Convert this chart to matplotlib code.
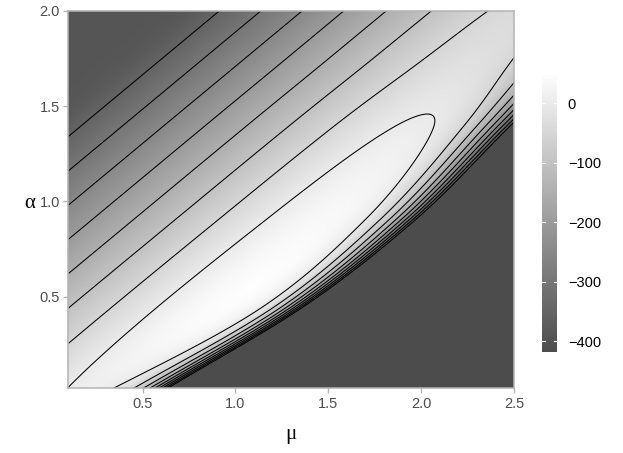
import numpy as np
import matplotlib
matplotlib.use("Agg")
import matplotlib.pyplot as plt
from matplotlib.colors import ListedColormap, Normalize

# ranges of the two parameters
mu_lim = (0.1, 2.5)
alpha_lim = (0.02, 2.0)

# surface: a plane on the upper-left side,
# a ridge along the diagonal and a steep drop on the lower-right side
plane_level = 1.0
plane_slope_mu = 226.0
plane_slope_alpha = 279.0
alpha_nodes = [0.02, 0.45, 0.9, 1.4, 1.7, 2.0]
ridge_peak = [10.5, 45.0, 36.0, 5.0, -22.0, -38.0]
cliff_width = [0.139, 0.165, 0.185, 0.19, 0.205, 0.20]
cliff_bend = [0.06, 0.12, 0.09, 0.05, 0.02, 0.0]
floor_level = -392.0
floor_soft = 12.0
clip_level = -418.5
fill_top = 51.5

contour_levels = [-400, -350, -300, -250, -200, -150, -100, -50, 0]
x_ticks = [0.5, 1.0, 1.5, 2.0, 2.5]
y_ticks = [0.5, 1.0, 1.5, 2.0]
cbar_ticks = [0, -100, -200, -300, -400]

plt.rcParams["font.family"] = ["Liberation Sans", "DejaVu Sans"]


def grey_lab(lightness):
    # ggplot interpolates colours in Lab; for greys only L* changes
    fy = (lightness + 16) / 116
    y = np.where(lightness > 8, fy ** 3, lightness / 903.3)
    c = np.where(y <= 0.0031308, 12.92 * y, 1.055 * y ** (1 / 2.4) - 0.055)
    return np.clip(c, 0, 1)


def hermite(xn, yn, x):
    xn = np.asarray(xn, float)
    yn = np.asarray(yn, float)
    m = np.gradient(yn, xn)
    i = np.clip(np.searchsorted(xn, x) - 1, 0, len(xn) - 2)
    h = xn[i + 1] - xn[i]
    t = (x - xn[i]) / h
    return ((2 * t**3 - 3 * t**2 + 1) * yn[i] + (t**3 - 2 * t**2 + t) * h * m[i]
            + (-2 * t**3 + 3 * t**2) * yn[i + 1] + (t**3 - t**2) * h * m[i + 1])


g = grey_lab(np.linspace(32.7, 100.0, 256))
cmap = ListedColormap(np.column_stack([g, g, g]))

mu = np.linspace(mu_lim[0], mu_lim[1], 601)
alpha = np.linspace(alpha_lim[0], alpha_lim[1], 501)
M, A = np.meshgrid(mu, alpha)

v = (plane_slope_mu * M - plane_slope_alpha * A) / plane_slope_alpha
plane = plane_level + plane_slope_alpha * v
plane = floor_level + floor_soft * np.logaddexp(0, (plane - floor_level) / floor_soft)
peak = hermite(alpha_nodes, ridge_peak, A)
width = hermite(alpha_nodes, cliff_width, A)
bend = hermite(alpha_nodes, cliff_bend, A)
vstar = (peak - plane_level) / plane_slope_alpha + width
x = (v - vstar) / width
cliff = plane_slope_alpha * width * np.exp(x + bend * np.clip(x, 0, None) ** 2)
Z = np.maximum(plane - cliff, clip_level)

W, H = 623, 453
fig = plt.figure(figsize=(W / 100, H / 100), dpi=100)
ax = fig.add_axes([68.3 / W, 1 - 388.3 / H, (514 - 68.3) / W, (388.3 - 10.7) / H])
cax = fig.add_axes([541.7 / W, 1 - 352 / H, 15 / W, (352 - 72.7) / H])

norm = Normalize(vmin=clip_level, vmax=fill_top)
im = ax.imshow(Z, origin="lower", extent=[mu_lim[0], mu_lim[1], alpha_lim[0], alpha_lim[1]],
               aspect="auto", cmap=cmap, norm=norm, interpolation="bilinear")
ax.contour(M, A, Z, levels=contour_levels, colors="black", linewidths=0.75,
           linestyles="solid", negative_linestyles="solid")
ax.set_xlim(*mu_lim)
ax.set_ylim(*alpha_lim)
ax.set_xticks(x_ticks)
ax.set_xticklabels([f"{t:.1f}" for t in x_ticks])
ax.set_yticks(y_ticks)
ax.set_yticklabels([f"{t:.1f}" for t in y_ticks])
for s in ax.spines.values():
    s.set_color("#B3B3B3")
    s.set_linewidth(1.1)
ax.tick_params(color="#B3B3B3", length=3.5, width=1.0, labelcolor="#4D4D4D", labelsize=10.5, pad=2.5)

fig.text(291 / W, 1 - 435 / H, "μ", ha="center", va="center", fontsize=15,
         family=["Liberation Serif", "DejaVu Serif"])
fig.text(30 / W, 1 - 203 / H, "α", ha="center", va="center", fontsize=15,
         family=["Liberation Serif", "DejaVu Serif"])

cb = fig.colorbar(im, cax=cax, ticks=cbar_ticks)
cb.outline.set_visible(False)
cb.ax.set_yticklabels(["0", "\u2212100", "\u2212200", "\u2212300", "\u2212400"])
cb.ax.tick_params(length=0, labelsize=10.5, labelcolor="black", pad=8)
for t in cbar_ticks:
    cax.plot([0, 0.2], [t, t], transform=cax.get_yaxis_transform(), color="white", lw=0.8)
    cax.plot([0.8, 1.0], [t, t], transform=cax.get_yaxis_transform(), color="white", lw=0.8)

fig.savefig("out.png", dpi=100)
